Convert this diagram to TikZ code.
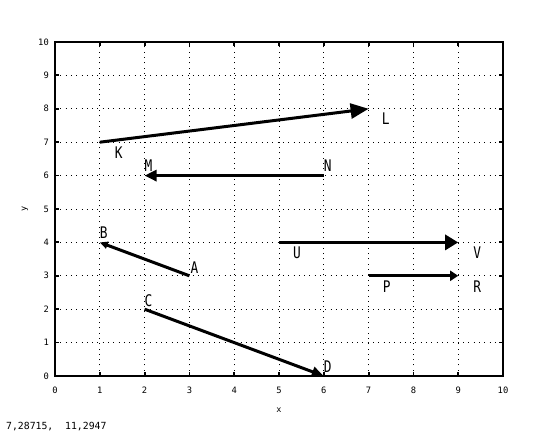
\documentclass[tikz,border=0pt]{standalone}
\usepackage{fontspec}
\setmonofont{DejaVu Sans Mono}
\newfontfamily\labfont[FakeStretch=0.8]{DejaVu Sans Mono}
\usetikzlibrary{arrows.meta}
\tikzset{
  griddot/.style={line width=0.9pt, dash pattern=on 0.9pt off 4.4pt, black},
  frameline/.style={line width=2.6pt, black},
  tickline/.style={line width=1.8pt, black},
  ticklab/.style={inner sep=0pt, font=\ttfamily\fontsize{8.8}{8.8}\selectfont},
  ptlab/.style={inner sep=0pt, font=\labfont\fontsize{16}{16}\selectfont},
  vec/.style={line width=3pt, black},
  axlab/.style={inner sep=0pt, font=\ttfamily\fontsize{8.5}{8.5}\selectfont},
}
\begin{document}
\begin{tikzpicture}[x=1pt,y=1pt]
\useasboundingbox (0,0) rectangle (560,433);
\begin{scope}[shift={(55,57)}, x=44.8pt, y=33.4pt]
  % grid
  \foreach \i in {1,...,9} {
    \draw[griddot] (\i,0) -- (\i,10);
    \draw[griddot] (0,\i) -- (10,\i);
  }
  % ticks
  \foreach \i in {0,...,10} {
    \draw[tickline] (\i,0) -- ++(0,4pt);
    \draw[tickline] (\i,10) -- ++(0,-4pt);
    \draw[tickline] (0,\i) -- ++(4pt,0);
    \draw[tickline] (10,\i) -- ++(-4pt,0);
    \node[ticklab] (xt\i) at ([yshift=-14.5pt]\i,0) {\i};
    \node[ticklab, anchor=east] (yt\i) at ([xshift=-6pt]0,\i) {\i};
  }
  % frame
  \draw[frameline] (0,0) rectangle (10,10);
  \node[axlab] (xlab) at ([yshift=-34pt]5,0) {x};
  \node[axlab, rotate=90] (ylab) at ([xshift=-30pt]0,5) {y};
  % points
  \coordinate (K) at (1,7);
  \coordinate (L) at (7,8);
  \coordinate (N) at (6,6);
  \coordinate (M) at (2,6);
  \coordinate (A) at (3,3);
  \coordinate (B) at (1,4);
  \coordinate (C) at (2,2);
  \coordinate (D) at (6,0);
  \coordinate (U) at (5,4);
  \coordinate (V) at (9,4);
  \coordinate (P) at (7,3);
  \coordinate (R) at (9,3);
  % vectors
  \draw[vec, -{Triangle[length=18pt,width=15pt]}] (K) -- (L);
  \draw[vec, -{Triangle[length=12pt,width=11pt]}] (N) -- (M);
  \draw[vec, -{Triangle[length=8pt,width=7pt]}] (A) -- (B);
  \draw[vec, -{Triangle[length=12pt,width=10pt]}] (C) -- (D);
  \draw[vec, -{Triangle[length=13pt,width=15pt]}] (U) -- (V);
  \draw[vec, -{Triangle[length=8pt,width=10pt]}] (P) -- (R);
  % labels
  \node[ptlab, xshift=19pt, yshift=-10pt] (Kl) at (K) {K};
  \node[ptlab, xshift=17pt, yshift=-10pt] (Ll) at (L) {L};
  \node[ptlab, xshift=4pt, yshift=10pt] (Ml) at (M) {M};
  \node[ptlab, xshift=4pt, yshift=10pt] (Nl) at (N) {N};
  \node[ptlab, xshift=4pt, yshift=9.5pt] (Bl) at (B) {B};
  \node[ptlab, xshift=5pt, yshift=8pt] (Al) at (A) {A};
  \node[ptlab, xshift=4pt, yshift=9pt] (Cl) at (C) {C};
  \node[ptlab, xshift=4pt, yshift=9pt] (Dl) at (D) {D};
  \node[ptlab, xshift=18pt, yshift=-10.5pt] (Ul) at (U) {U};
  \node[ptlab, xshift=19pt, yshift=-10pt] (Vl) at (V) {V};
  \node[ptlab, xshift=18pt, yshift=-11pt] (Pl) at (P) {P};
  \node[ptlab, xshift=19pt, yshift=-11pt] (Rl) at (R) {R};
\end{scope}
\node[inner sep=0pt, anchor=west, font=\ttfamily\fontsize{9.8}{9.8}\selectfont] (status) at (6,6) {7,28715,\ \ 11,2947};
\end{tikzpicture}
\end{document}
